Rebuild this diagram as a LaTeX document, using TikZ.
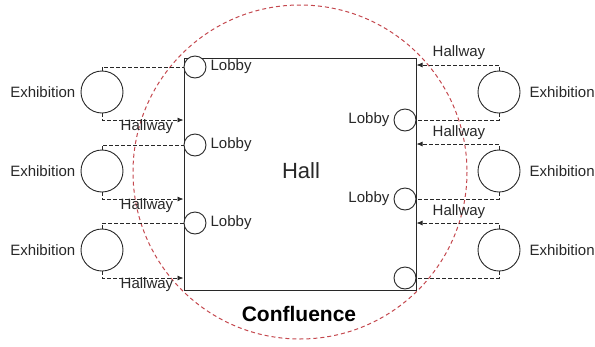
\documentclass[tikz,border=0pt]{standalone}
\usepackage{fontspec}
\setmainfont{Liberation Sans}
\usetikzlibrary{arrows.meta,positioning}
\definecolor{conflred}{RGB}{196,72,78}
\definecolor{ink}{RGB}{40,40,40}
\begin{document}
\begin{tikzpicture}[x=1pt,y=-1pt,
 exhib/.style={circle,draw=ink,line width=0.9pt,minimum size=42pt,inner sep=0pt},
 lobbyc/.style={circle,draw=ink,line width=0.9pt,minimum size=22pt,inner sep=0pt,fill=white},
 txt/.style={font=\fontsize{15}{17}\selectfont,inner sep=0pt,text=ink},
 link/.style={draw=ink,dash pattern=on 3.5pt off 2.5pt,line width=0.8pt},
 flow/.style={link,-{Latex[length=6pt,width=5pt]}},
 confl/.style={draw=conflred,dash pattern=on 4pt off 3pt,line width=1pt},
 hallbox/.style={draw=ink,fill=white,line width=1pt,minimum width=232pt,minimum height=232pt,inner sep=0pt},
]
\useasboundingbox (0,0) rectangle (595,346);
\draw[confl] (300,172) circle[radius=167];
\node[hallbox] (hall) at (300,174) {};
\node[font=\fontsize{22}{26}\selectfont,text=ink,inner sep=0pt] (halltxt) at (301,171) {Hall};
\node[font=\bfseries\fontsize{21}{24}\selectfont,text=black,inner sep=0pt] (confluence) at (299,314) {Confluence};

% exhibitions
\node[exhib] (el1) at (102,92) {};
\node[exhib] (el2) at (102,171) {};
\node[exhib] (el3) at (102,250) {};
\node[exhib] (er1) at (499,92) {};
\node[exhib] (er2) at (499,171) {};
\node[exhib] (er3) at (499,250) {};
\foreach \n in {el1,el2,el3} \node[txt,left=5pt of \n] (\n t) {Exhibition};
\foreach \n in {er1,er2,er3} \node[txt,right=9pt of \n] (\n t) {Exhibition};

% lobbies
\node[lobbyc] (ll1) at (195,67) {};
\node[lobbyc] (ll2) at (195,145) {};
\node[lobbyc] (ll3) at (195,223) {};
\node[lobbyc] (lr1) at (405,120) {};
\node[lobbyc] (lr2) at (405,199) {};
\node[lobbyc] (lr3) at (405,278) {};
\foreach \n in {ll1,ll2,ll3} \node[txt,right=4pt of \n] (\n t) {Lobby};
\foreach \n in {lr1,lr2} \node[txt,left=4pt of \n] (\n t) {Lobby};

% hallway entry points on the hall
\coordinate (hl1) at (hall.west |- 0,120);
\coordinate (hl2) at (hall.west |- 0,199);
\coordinate (hl3) at (hall.west |- 0,278);
\coordinate (hr1) at (hall.east |- 0,65);
\coordinate (hr2) at (hall.east |- 0,144);
\coordinate (hr3) at (hall.east |- 0,223);

% left side
\draw[link] (el1.north) |- (ll1.west);
\draw[link] (el2.north) |- (ll2.west);
\draw[link] (el3.north) |- (ll3.west);
\draw[flow] (el1.south) |- (hl1);
\draw[flow] (el2.south) |- (hl2);
\draw[flow] (el3.south) |- (hl3);
\node[txt] (hwl1) at (147,127) {Hallway};
\node[txt] (hwl2) at (147,206) {Hallway};
\node[txt] (hwl3) at (147,285) {Hallway};

% right side
\draw[flow] (er1.north) |- (hr1);
\draw[flow] (er2.north) |- (hr2);
\draw[flow] (er3.north) |- (hr3);
\draw[link] (er1.south) |- (lr1.east);
\draw[link] (er2.south) |- (lr2.east);
\draw[link] (er3.south) |- (lr3.east);
\node[txt] (hwr1) at (459,53) {Hallway};
\node[txt] (hwr2) at (459,133) {Hallway};
\node[txt] (hwr3) at (459,212) {Hallway};
\end{tikzpicture}
\end{document}
